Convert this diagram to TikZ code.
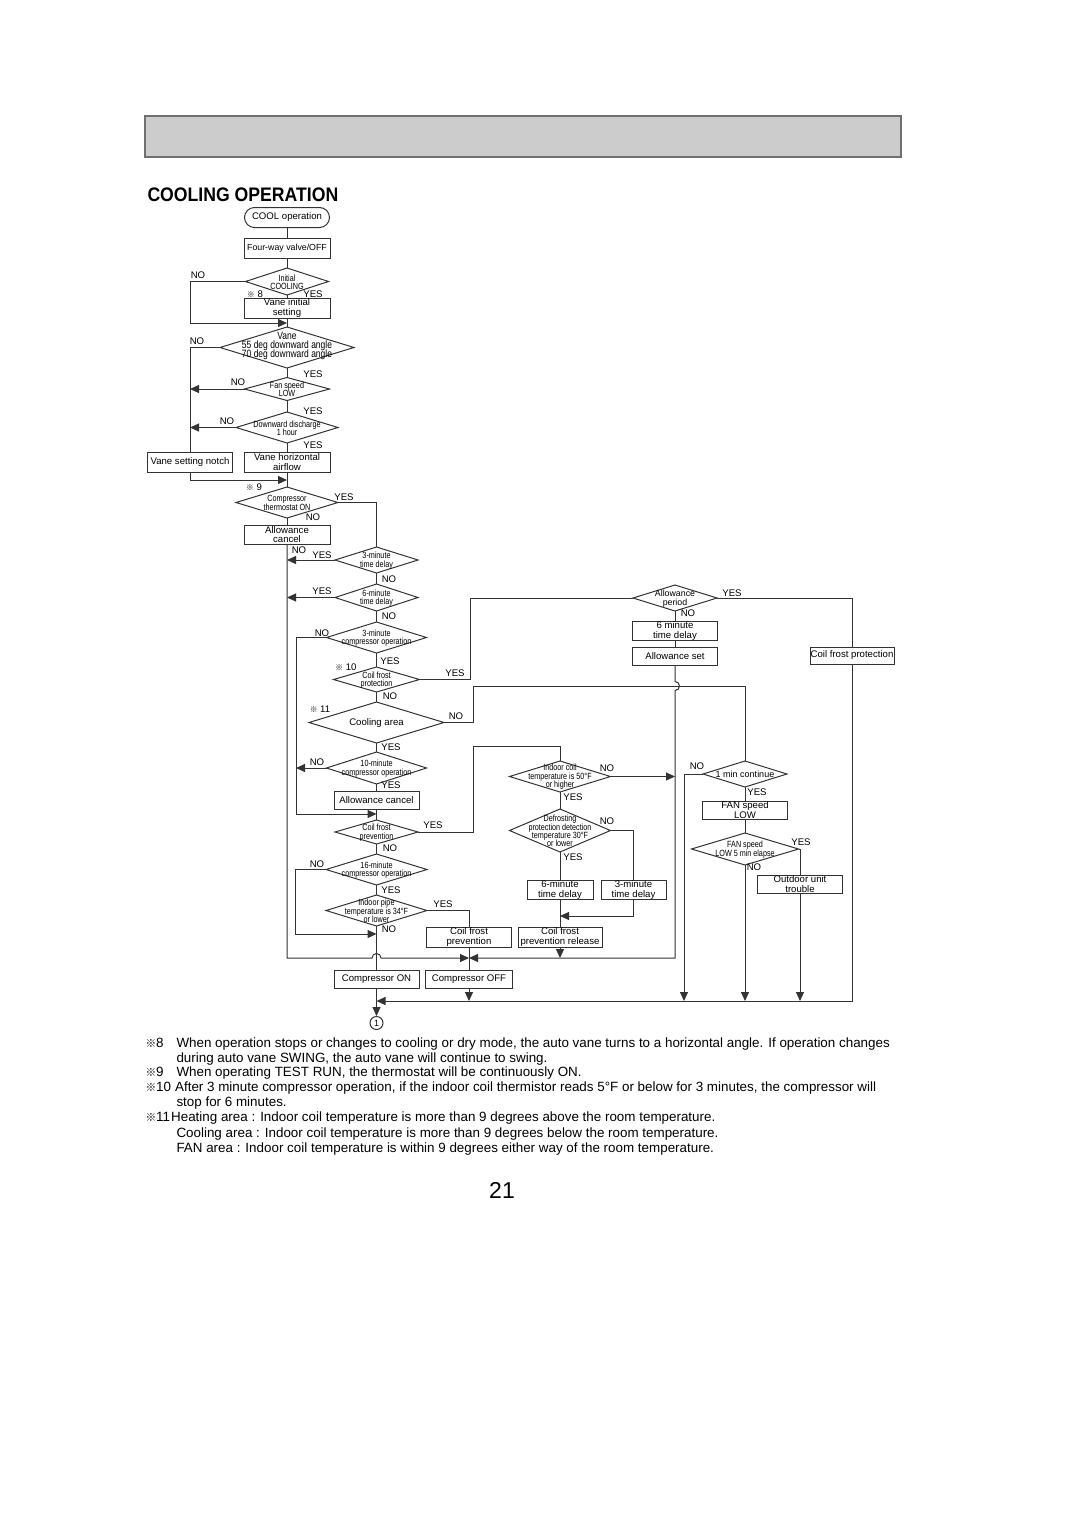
\documentclass[tikz,border=0pt]{standalone}
\usepackage{fontspec}
\setmainfont{Liberation Sans}
\newfontfamily\narrowfont[FakeStretch=0.8]{Liberation Sans}
\newfontfamily\titlefont[FakeStretch=0.9]{Liberation Sans}
\newfontfamily\cjk{Noto Sans CJK JP}
\usetikzlibrary{shapes.geometric}
\usetikzlibrary{arrows.meta}
\definecolor{lineColor}{HTML}{333333}
\definecolor{headColor}{HTML}{CCCCCC}
\definecolor{headLine}{HTML}{707070}
\newcommand{\kome}{\scalebox{0.8}{\cjk ※}}
\newcommand{\dtx}[1]{\raisebox{-1.5pt}[0pt][0pt]{\makebox[0pt]{$\vcenter{\let\\\cr\lineskiplimit=-20pt\lineskip=0pt\halign{\hfil##\hfil\cr#1\crcr}}$}}}

\begin{document}
\begin{tikzpicture}[x=0.5pt,y=-0.5pt,line width=0.5pt,
    box/.style={draw=lineColor,rectangle,inner sep=0pt,outer sep=0pt,minimum width=43pt,minimum height=10pt,align=center,font=\fontsize{4.8}{4.6}\selectfont},
    dec/.style={draw=lineColor,diamond,inner sep=0pt,outer sep=0pt,font=\narrowfont\fontsize{4.5}{4.2}\selectfont},
    lbl/.style={inner sep=0pt,font=\fontsize{4.8}{5}\selectfont},
    note/.style={inner sep=0pt,anchor=base west,font=\fontsize{6.7}{7.5}\selectfont},
    wire/.style={draw=lineColor},
    arr/.style={draw=lineColor,-{Triangle[length=4.5pt,width=4pt]}}]
  \useasboundingbox (0,0) rectangle (1080,1531);
  \draw[draw=headLine,fill=headColor,line width=0.8pt] (145,116) rectangle (901,157);
  \node[anchor=base west,inner sep=0pt,font=\titlefont\bfseries\fontsize{9.8}{10}\selectfont] (title) at (147,201) {COOLING OPERATION};

  \node[box,rounded corners=5pt,minimum width=42.5pt] (cool) at (287,217.5) {COOL operation};
  \node[box,font=\fontsize{4.4}{4.6}\selectfont] (valve) at (287,248) {Four-way valve/OFF};
  \node[dec,minimum width=41.5pt,minimum height=13.5pt] (init) at (287,281.5) {\dtx{Initial\\COOLING}};
  \node[box] (vinit) at (287,308) {Vane initial\\setting};
  \node[dec,minimum width=67pt,minimum height=20.5pt,font=\narrowfont\fontsize{5.3}{4.3}\selectfont] (vane) at (287,347.5) {\raisebox{2pt}{\dtx{Vane\\55 deg downward angle\\70 deg downward angle}}};
  \node[dec,minimum width=42.5pt,minimum height=11.5pt] (fan) at (287,389) {\dtx{Fan speed\\LOW}};
  \node[dec,minimum width=51pt,minimum height=15.5pt] (dd) at (287,427.5) {\dtx{Downward discharge\\1 hour}};
  \node[box,minimum width=42.5pt] (notch) at (190,462) {Vane setting notch};
  \node[box] (vhoriz) at (287,462) {Vane horizontal\\airflow};
  \node[dec,minimum width=51pt,minimum height=15.5pt] (thermo) at (287,502.5) {\dtx{Compressor\\thermostat ON}};
  \node[box,minimum height=9.5pt] (acancel) at (287,534.5) {Allowance\\cancel};

  \node[dec,minimum width=41.5pt,minimum height=13pt] (t3) at (376.5,560) {\dtx{3-minute\\time delay}};
  \node[dec,minimum width=41.5pt,minimum height=13.5pt] (t6) at (376.5,597.5) {\dtx{6-minute\\time delay}};
  \node[dec,minimum width=50pt,minimum height=15.5pt] (c3) at (376.5,637.5) {\dtx{3-minute\\compressor operation}};
  \node[dec,minimum width=43pt,minimum height=12.5pt] (cfp) at (376.5,679.5) {\dtx{Coil frost\\protection}};
  \node[dec,minimum width=67.5pt,minimum height=20.5pt,font=\fontsize{4.8}{5}\selectfont] (carea) at (376.5,722.5) {\dtx{Cooling area}};
  \node[dec,minimum width=50pt,minimum height=16pt] (c10) at (376.5,768) {\dtx{10-minute\\compressor operation}};
  \node[box,minimum width=42.5pt,minimum height=9pt] (acancel2) at (376.5,800) {Allowance cancel};
  \node[dec,minimum width=41.5pt,minimum height=12pt] (cfprv) at (376.5,832) {\dtx{Coil frost\\prevention}};
  \node[dec,minimum width=50.5pt,minimum height=15.5pt] (c16) at (376.5,869.5) {\dtx{16-minute\\compressor operation}};
  \node[dec,minimum width=50.5pt,minimum height=15.5pt] (ipipe) at (376.5,910.5) {\dtx{Indoor pipe\\temperature is 34°F\\or lower}};
  \node[box,minimum width=42.5pt] (cfbox) at (469,937) {Coil frost\\prevention};
  \node[box,minimum width=42.5pt,minimum height=9pt] (compon) at (376.5,979.5) {Compressor ON};
  \node[box,minimum width=43.5pt,minimum height=9pt] (compoff) at (469,979.5) {Compressor OFF};
  \node[draw=lineColor,circle,inner sep=0pt,minimum size=6.5pt,font=\fontsize{4.5}{5}\selectfont] (one) at (376.5,1023) {1};

  \node[dec,minimum width=50.5pt,minimum height=15.5pt] (icoil) at (560,776.5) {\dtx{Indoor coil\\temperature is 50°F\\or higher}};
  \node[dec,minimum width=50.5pt,minimum height=21.5pt] (defr) at (560,830.5) {\dtx{Defrosting\\protection detection\\temperature 30°F\\or lower}};
  \node[box,minimum width=33pt,minimum height=9pt] (d6box) at (560,890) {6-minute\\time delay};
  \node[box,minimum width=32.5pt,minimum height=9pt] (d3box) at (633.5,890) {3-minute\\time delay};
  \node[box,minimum width=42pt] (cfrel) at (560,937) {Coil frost\\prevention release};

  \node[dec,minimum width=42pt,minimum height=13pt,font=\fontsize{4.4}{4.4}\selectfont] (aper) at (675,598) {\dtx{Allowance\\period}};
  \node[box,minimum width=42.5pt,minimum height=9pt] (d6m) at (675,631) {6 minute\\time delay};
  \node[box,minimum width=42.5pt,minimum height=9pt] (aset) at (675,656) {Allowance set};
  \node[box,minimum width=42pt,minimum height=8.5pt] (cfprot) at (852,655.5) {Coil frost protection};
  \node[dec,minimum width=42pt,minimum height=13pt,font=\fontsize{4.5}{4.6}\selectfont] (min1) at (745,774) {\dtx{1 min continue}};
  \node[box,minimum width=42.5pt,minimum height=9pt] (fanlow) at (745,810) {FAN speed\\LOW};
  \node[dec,minimum width=53.5pt,minimum height=16pt] (fan5) at (745,849) {\dtx{FAN speed\\LOW 5 min elapse}};
  \node[box,minimum width=42.5pt,minimum height=9pt] (outdoor) at (800,884) {Outdoor unit\\trouble};

  \coordinate (m1) at (287,323);
  \coordinate (m2) at (287,480);
  \coordinate (r2) at (296,814);
  \coordinate (m3) at (376.5,814);
  \coordinate (r4) at (470,598);
  \coordinate (r5) at (473,686);
  \coordinate (r6) at (473,746);
  \coordinate (r7) at (295,934);
  \coordinate (m7) at (376.5,934);
  \coordinate (jo) at (469,958);
  \coordinate (cr1) at (376.5,958);
  \coordinate (cr3) at (675,686);
  \coordinate (m8) at (376.5,1001);
  \coordinate (m9) at (560,916);
  \coordinate (r9) at (684,1001);

  \draw[wire] (cool) -- (valve) -- (init) -- (vinit) -- (vane) -- (fan) -- (dd) -- (vhoriz) -- (thermo) -- (acancel);
  \draw[arr] (init.west) -| (notch.north |- init.west) |- (m1);
  \draw[wire] (vane.west) -| (notch.north);
  \draw[arr] (fan.west) -- (fan.west -| notch.north);
  \draw[arr] (dd.west) -- (dd.west -| notch.north);
  \draw[arr] (notch.south) |- (m2);
  \draw[wire] (thermo.east) -| (t3.north);
  \draw[arr] (acancel.south) |- ([xshift=-2.25pt]cr1) arc[start angle=180,end angle=0,radius=2.25pt] -- (jo);
  \draw[arr] (t3.west) -- (t3.west -| acancel.south);
  \draw[arr] (t6.west) -- (t6.west -| acancel.south);
  \draw[wire] (t3) -- (t6) -- (c3) -- (cfp) -- (carea) -- (c10) -- (acancel2) -- (cfprv) -- (c16) -- (ipipe) -- (compon);
  \draw[arr] (c3.west) -| (r2) -- (m3);
  \draw[arr] (c10.west) -- (c10.west -| r2);
  \draw[wire] (cfp.east) -| (r4) -- (aper.west);
  \draw[wire] (carea.east) -| (r5) -| (min1.north);
  \draw[wire] (cfprv.east) -| (r6) -| (icoil.north);
  \draw[arr] (c16.west) -| (r7) -- (m7);
  \draw[wire] (ipipe.east) -| (cfbox.north);
  \draw[wire] (cfbox) -- (compoff);
  \draw[arr] (compon) -- (one);

  \draw[wire] (icoil) -- (defr) -- (d6box) -- (cfrel);
  \draw[arr] (icoil.east) -- (icoil.east -| aset.south);
  \draw[wire] (defr.east) -| (d3box.north);
  \draw[arr] (d3box.south) |- (m9);
  \draw[arr] (cfrel.south) -- (cfrel.south |- jo);

  \draw[wire] (aper) -- (d6m) -- (aset);
  \draw[arr] (aset.south) -- ([yshift=2.25pt]cr3) arc[start angle=90,end angle=-90,radius=2.25pt] |- (jo);
  \draw[wire] (aper.east) -| (cfprot.north);
  \draw[arr] (cfprot.south) |- (m8);
  \draw[arr] (compoff.south) -- (compoff.south |- m8);
  \draw[wire] (min1) -- (fanlow) -- (fan5);
  \draw[arr] (min1.west) -| (r9);
  \draw[arr] (fan5.south) -- (fan5.south |- m8);
  \draw[wire] (fan5.east) -| (outdoor.north);
  \draw[arr] (outdoor.south) -- (outdoor.south |- m8);

  \foreach \p/\t [count=\i] in {{198,275}/NO,{255,294}/{\kome\ 8},{313,294}/YES,{197,341}/NO,{313,374}/YES,
      {238,382}/NO,{313,411}/YES,{227,421}/NO,{313,445}/YES,{254,487}/{\kome\ 9},{344,497}/YES,{313,517}/NO,
      {299,550}/NO,{322,555}/YES,{389,579}/NO,{322,591}/YES,{389,616}/NO,{322,633}/NO,{390,661}/YES,
      {346,667}/{\kome\ 10},{455,673}/YES,{390,696}/NO,{320,709}/{\kome\ 11},{456,716}/NO,{391,747}/YES,
      {317,762}/NO,{391,785}/YES,{433,825}/YES,{390,848}/NO,{317,864}/NO,{391,890}/YES,{443,904}/YES,
      {389,929}/NO,{607,768}/NO,{573,797}/YES,{607,821}/NO,{573,857}/YES,{732,593}/YES,{688,613}/NO,
      {697,766}/NO,{757,792}/YES,{801,842}/YES,{754,867}/NO}
    \node[lbl] (lab\i) at (\p) {\t};

  \node[note] (fn8m) at (145,1047.5) {\kome8};
  \node[note] (fn8a) at (176,1047.5) {When operation stops or changes to cooling or dry mode, the auto vane turns to a horizontal angle. If operation changes};
  \node[note] (fn8b) at (176,1062.5) {during auto vane SWING, the auto vane will continue to swing.};
  \node[note] (fn9m) at (145,1076.5) {\kome9};
  \node[note] (fn9) at (176,1076.5) {When operating TEST RUN, the thermostat will be continuously ON.};
  \node[note] (fn10m) at (145,1091.5) {\kome10};
  \node[note] (fn10a) at ([xshift=1.5pt]fn10m.base east) {After 3 minute compressor operation, if the indoor coil thermistor reads 5°F or below for 3 minutes, the compressor will};
  \node[note] (fn10b) at (176,1106.5) {stop for 6 minutes.};
  \node[note] (fn11m) at (145,1121.5) {\kome11};
  \node[note] (fn11a) at (fn11m.base east) {Heating area : Indoor coil temperature is more than 9 degrees above the room temperature.};
  \node[note] (fn11b) at (176,1137) {Cooling area : Indoor coil temperature is more than 9 degrees below the room temperature.};
  \node[note] (fn11c) at (176,1152) {FAN area : Indoor coil temperature is within 9 degrees either way of the room temperature.};
  \node[inner sep=0pt,font=\fontsize{11.5}{12}\selectfont] (page) at (502,1190) {21};
\end{tikzpicture}
\end{document}
